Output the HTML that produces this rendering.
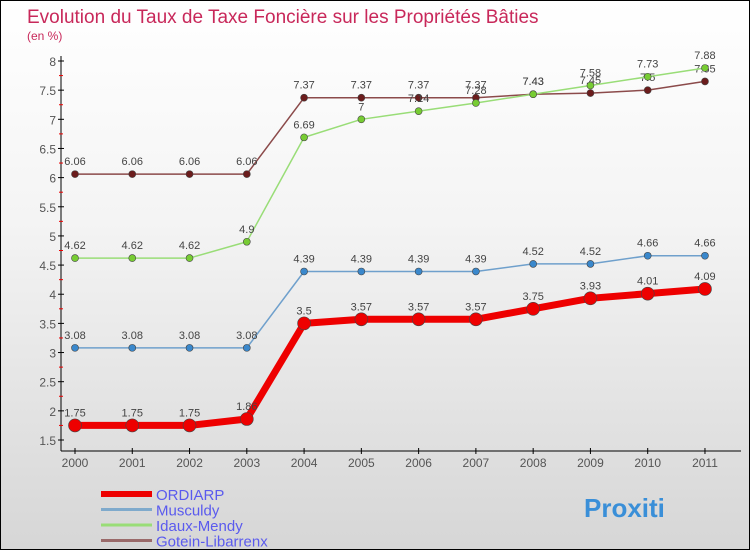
<!DOCTYPE html>
<html><head><meta charset="utf-8"><style>
body{margin:0;}
#wrap{width:748px;height:548px;border:1px solid #000;background:linear-gradient(#ffffff,#f4f4f4 40%,#d6d6d6);position:relative;overflow:hidden;font-family:"Liberation Sans",sans-serif;}
svg text{font-family:"Liberation Sans",sans-serif;}
</style></head><body>
<div id="wrap">
<svg id="chart" width="748" height="548">
<text x="26" y="22" font-size="19" fill="#c8285a">Evolution du Taux de Taxe Foncière sur les Propriétés Bâties</text>
<text x="26" y="39" font-size="12" fill="#c8285a">(en %)</text>
</svg>
</div>
<script>
const years=[2000,2001,2002,2003,2004,2005,2006,2007,2008,2009,2010,2011];
const yTicks=[1.5,2,2.5,3,3.5,4,4.5,5,5.5,6,6.5,7,7.5,8];
const ordiarp=[1.75,1.75,1.75,1.86,3.5,3.57,3.57,3.57,3.75,3.93,4.01,4.09];
const musculdy=[3.08,3.08,3.08,3.08,4.39,4.39,4.39,4.39,4.52,4.52,4.66,4.66];
const idaux=[4.62,4.62,4.62,4.9,6.69,7,7.14,7.28,7.43,7.58,7.73,7.88];
const gotein=[6.06,6.06,6.06,6.06,7.37,7.37,7.37,7.37,7.43,7.45,7.5,7.65];
const ordiarpLabels=["1.75","1.75","1.75","1.86","3.5","3.57","3.57","3.57","3.75","3.93","4.01","4.09"];
const musculdyLabels=["3.08","3.08","3.08","3.08","4.39","4.39","4.39","4.39","4.52","4.52","4.66","4.66"];
const idauxLabels=["4.62","4.62","4.62","4.9","6.69","7","7.14","7.28","7.43","7.58","7.73","7.88"];
const goteinLabels=["6.06","6.06","6.06","6.06","7.37","7.37","7.37","7.37","7.43","7.45","7.5","7.65"];
const NS="http://www.w3.org/2000/svg";
const svg=document.getElementById('chart');
const X0=74,XS=57.27,YTOP=60,YBOT=439,VMIN=1.5,VMAX=8;
function xs(i){return X0+i*XS;}
function ys(v){return YBOT-(v-VMIN)/(VMAX-VMIN)*(YBOT-YTOP);}
function mk(t,a){const e=document.createElementNS(NS,t);for(const k in a)e.setAttribute(k,a[k]);svg.appendChild(e);return e;}
let ax=mk('line',{x1:60,y1:55,x2:60,y2:450,stroke:'#000'});


let xa=mk('line',{x1:60,y1:450,x2:740,y2:450,stroke:'#000'});


yTicks.forEach((v,i)=>{
  mk('line',{x1:57,y1:ys(v),x2:63,y2:ys(v),stroke:'#000'});
  if(i<yTicks.length-1){mk('line',{x1:58,y1:ys(v+0.25),x2:62,y2:ys(v+0.25),stroke:'#e00'});}
  const t=mk('text',{x:55,y:ys(v)+5,'font-size':12,fill:'#555','text-anchor':'end'});
  t.textContent=String(v);
  
  
});
years.forEach((y,i)=>{
  mk('line',{x1:xs(i),y1:447,x2:xs(i),y2:453,stroke:'#000'});
  const t=mk('text',{x:xs(i),y:466,'font-size':12,fill:'#555','text-anchor':'middle'});
  t.textContent=y;
  
  
});
function series(vals,labels,color,dot,w,r,name){
  const p=mk('polyline',{points:vals.map((v,i)=>xs(i)+','+ys(v)).join(' '),fill:'none',stroke:color,'stroke-width':w,'stroke-linejoin':'round'});
  
  
  vals.forEach((v,i)=>{
    const c=mk('circle',{cx:xs(i),cy:ys(v),r:r,fill:dot,stroke:'#444','stroke-width':0.6});
    
    
    const t=mk('text',{x:xs(i),y:ys(v)-9,'font-size':11,fill:'#444','text-anchor':'middle'});
    t.textContent=labels[i];
    
    
  });
}
series(gotein,goteinLabels,'#8b4a4a','#6b1c1c',1.5,3.5,'gotein-libarrenx');
series(idaux,idauxLabels,'#99dd77','#77cc33',1.5,3.5,'idaux-mendy');
series(musculdy,musculdyLabels,'#6fa0cc','#3a88cc',1.5,3.5,'musculdy');
series(ordiarp,ordiarpLabels,'#ee0000','#ee0000',7,6.5,'ordiarp');
const legNames=['ORDIARP','Musculdy','Idaux-Mendy','Gotein-Libarrenx'];
const legColors=['#ee0000','#7faacc','#99dd77','#9a6a6a'];
const legW=[6,3,3,3];
legNames.forEach((n,i)=>{
  const y=493+i*15.5;
  const l=mk('line',{x1:100,y1:y,x2:151,y2:y,stroke:legColors[i],'stroke-width':legW[i]});
  
  
  const t=mk('text',{x:155,y:y+6,'font-size':15,fill:'#5a5aee'});
  t.textContent=n;
  
  
});
const brand=mk('text',{x:583,y:516,'font-size':26,'font-weight':'bold',fill:'#3a8fd8'});
brand.textContent='Proxiti';


</script>
</body></html>
